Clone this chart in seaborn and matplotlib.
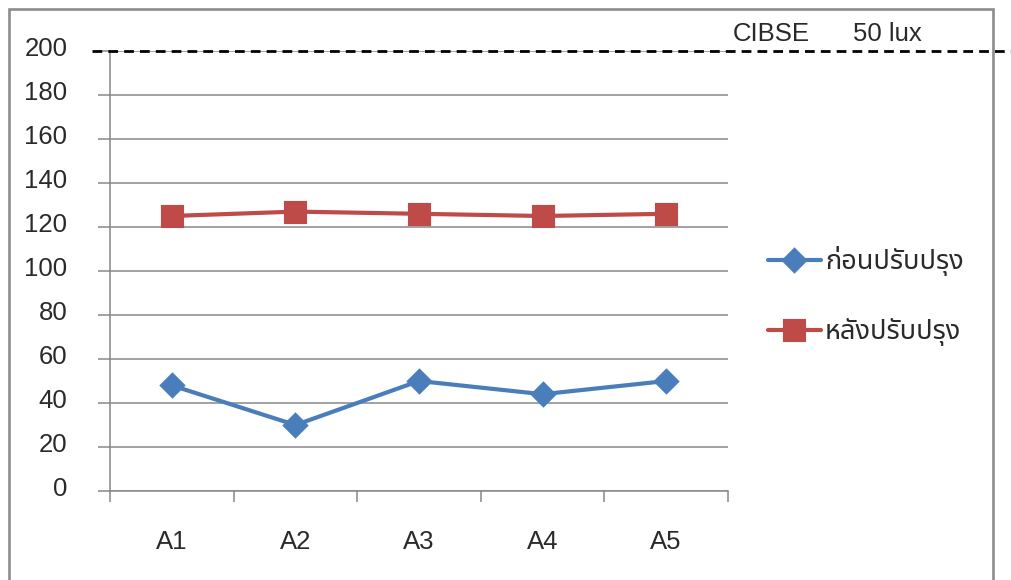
import matplotlib
matplotlib.use("Agg")
import matplotlib.pyplot as plt
from matplotlib import font_manager
from matplotlib.patches import Rectangle
from matplotlib.ticker import FixedLocator
from matplotlib.transforms import ScaledTranslation
import seaborn as sns
import pandas as pd

# ---- data -------------------------------------------------------------
sites = ["A1", "A2", "A3", "A4", "A5"]
before = [48, 30, 50, 44, 50]      # ก่อนปรับปรุง
after = [125, 127, 126, 125, 126]  # หลังปรับปรุง
series_labels = ["ก่อนปรับปรุง", "หลังปรับปรุง"]
y_ticks = [0, 20, 40, 60, 80, 100, 120, 140, 160, 180, 200]
standard_level = 200
standard_name = "CIBSE"
standard_text = "50 lux"


def find_thai_family():
    """Return the name of an installed family that has Thai glyphs."""
    preferred = ["Noto Sans Thai", "Noto Sans Thai UI", "Noto Sans Thai Looped",
                 "Tahoma", "Loma", "Garuda", "Sarabun", "Norasi", "Kinnari",
                 "Waree", "Laksaman", "Umpush", "Sawasdee", "Purisa"]
    names = {f.name for f in font_manager.fontManager.ttflist}
    for p in preferred:
        if p in names:
            return p
    try:
        from fontTools.ttLib import TTFont
    except Exception:
        return None
    for f in font_manager.fontManager.ttflist:
        try:
            tt = TTFont(f.fname, fontNumber=0, lazy=True)
            cmap = tt.getBestCmap() or {}
            if 0x0E01 in cmap and 0x0E38 in cmap and 0x0E48 in cmap:
                return f.name
        except Exception:
            continue
    return None


sns.set_theme(style="white")
plt.rcParams["font.family"] = ["Liberation Sans", "DejaVu Sans"]
thai = find_thai_family()
legend_family = [thai, "DejaVu Sans"] if thai else ["DejaVu Sans"]

FS = 18.5
GRID = "#878787"
TEXT = "#2a2a2a"
BLUE = "#4A7EBB"
RED = "#BE4B48"

fig = plt.figure(figsize=(10.12, 5.8), dpi=100)
fig.patch.set_facecolor("white")

W, H = 1012, 580
ax = fig.add_axes([110 / W, 1 - 491 / H, (728 - 110) / W, 440 / H])

df = pd.DataFrame({"site": sites, "before": before, "after": after})

sns.pointplot(data=df, x="site", y="before", color=BLUE, marker="D",
              markersize=10.8, linewidth=3.0, errorbar=None,
              label=series_labels[0], ax=ax)
sns.pointplot(data=df, x="site", y="after", color=RED, marker="s",
              markersize=14, linewidth=3.0, errorbar=None,
              label=series_labels[1], ax=ax)

ax.set_xlim(-0.5, len(sites) - 0.5)
ax.set_ylim(y_ticks[0], y_ticks[-1])
ax.set_xlabel("")
ax.set_ylabel("")

# horizontal gridlines
ax.set_yticks(y_ticks)
ax.yaxis.grid(True, color=GRID, linewidth=1.1)
ax.xaxis.grid(False)
ax.set_axisbelow(True)

# category separators as minor ticks on the x axis
ax.xaxis.set_minor_locator(FixedLocator([i - 0.5 for i in range(len(sites) + 1)]))
ax.tick_params(axis="x", which="minor", direction="out", length=8,
               width=1.1, color=GRID, bottom=True)
ax.tick_params(axis="x", which="major", length=0, pad=28,
               labelsize=FS, labelcolor=TEXT)
ax.tick_params(axis="y", which="major", direction="out", length=8.6,
               width=1.1, color=GRID, left=True, pad=22,
               labelsize=FS, labelcolor=TEXT)

# y labels sit a little above their gridlines
lift = ScaledTranslation(0, 4 / 100, fig.dpi_scale_trans)
for lab in ax.get_yticklabels():
    lab.set_transform(lab.get_transform() + lift)

for side in ("top", "right"):
    ax.spines[side].set_visible(False)
for side in ("left", "bottom"):
    ax.spines[side].set_color(GRID)
    ax.spines[side].set_linewidth(1.1)

# standard level reference line
ax.axhline(standard_level, xmin=-0.029, xmax=1.5, color="black",
           linewidth=2.0, dashes=(3.5, 2.2), clip_on=False, zorder=5)
fig.text(733 / W, 1 - 41 / H, standard_name, fontsize=FS,
         color=TEXT, ha="left", va="baseline")
fig.text(853 / W, 1 - 41 / H, standard_text, fontsize=FS,
         color=TEXT, ha="left", va="baseline")

# legend to the right of the plot
if ax.legend_:
    ax.legend_.remove()
handles, labels = ax.get_legend_handles_labels()
leg = fig.legend(handles, labels, loc="center left",
                 bbox_to_anchor=(768 / W, 1 - 296 / H), frameon=False,
                 prop={"family": legend_family, "size": FS + 1},
                 handlelength=1.95, handletextpad=0.15, labelspacing=1.55,
                 borderaxespad=0, borderpad=0)
for t in leg.get_texts():
    t.set_color(TEXT)

# outer frame
fig.add_artist(Rectangle((9.5 / W, -0.1), (993 - 9.5) / W, 1.1 - 9.5 / H,
                         transform=fig.transFigure, fill=False,
                         edgecolor="#8C8C8C", linewidth=1.9, clip_on=False))

fig.savefig("out.png", dpi=100, facecolor="white")
